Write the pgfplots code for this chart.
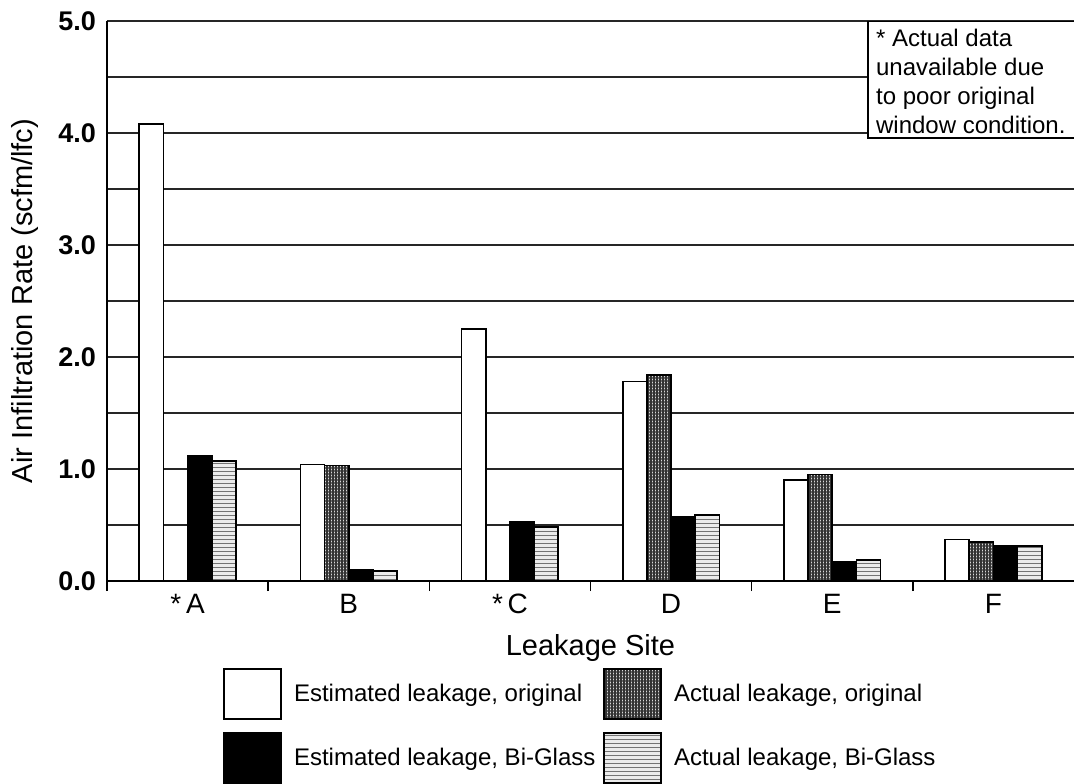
\documentclass[border=0pt]{standalone}
\usepackage{pgfplots}
\pgfplotsset{compat=1.18}
\usepackage{fontspec}
\setmainfont{Liberation Sans}
\usetikzlibrary{patterns.meta}

\begin{document}
\begin{tikzpicture}
\begin{axis}[
  scale only axis,
  width=483.5pt, height=280pt,
  xmin=-0.5, xmax=5.5, ymin=0, ymax=5,
  axis x line*=bottom, axis y line*=left,
  axis line style={line width=0.8pt, black},
  ybar, bar width=0.15,
  /pgf/number format/assume math mode=true,
  xtick={0,1,2,3,4,5},
  xticklabels={*\,A, B, *\,C, D, E, F},
  ytick={0,0.5,1,1.5,2,2.5,3,3.5,4,4.5,5},
  yticklabels={0.0,,1.0,,2.0,,3.0,,4.0,,5.0},
  ymajorgrids, grid style={line width=0.75pt, black!85},
  major tick length=0pt,
  extra x ticks={-0.5,0.5,1.5,2.5,3.5,4.5},
  extra x tick labels={},
  extra x tick style={major tick length=5pt, tick align=outside, grid=none, tick style={line width=0.8pt, black}},
  xticklabel style={font=\fontsize{14}{16}\selectfont, yshift=-3pt},
  yticklabel style={font=\bfseries\fontsize{13.5}{16}\selectfont, xshift=-2pt},
  xlabel={Leakage Site},
  ylabel={Air Infiltration Rate (scfm/lfc)},
  every axis x label/.style={at={(axis description cs:0.5,-0.1196)}, anchor=center, font=\fontsize{14.5}{17}\selectfont},
  every axis y label/.style={at={(axis description cs:-0.0848,0.5)}, anchor=center, rotate=90, font=\fontsize{14.5}{17}\selectfont},
  legend columns=2,
  legend style={at={(0,0)}, anchor=north west, xshift=58pt, yshift=-43.5pt, draw=none, fill=none, inner sep=0pt, font=\fontsize{12}{14}\selectfont, row sep=6pt, /tikz/every odd column/.style={column sep=4pt}, /tikz/every even column/.style={column sep=2pt}},
  legend cell align=left,
  legend image code/.code={\draw[#1, line width=0.8pt] (0pt,-12.5pt) rectangle (28.5pt,12.5pt);},
]
\addplot[draw=black, line width=0.8pt, fill=white, bar shift=-0.225]
  coordinates {(0,4.08) (1,1.04) (2,2.25) (3,1.78) (4,0.90) (5,0.37)};
\addlegendentry{Estimated leakage, original}
\addplot[draw=black, line width=0.8pt, preaction={fill=black!15}, pattern={Hatch[distance=1.5pt, line width=0.55pt]}, pattern color=black!80, bar shift=-0.075]
  coordinates {(1,1.03) (3,1.84) (4,0.95) (5,0.35)};
\addlegendentry{Actual leakage, original}
\addplot[draw=black, line width=0.8pt, fill=black, bar shift=0.075]
  coordinates {(0,1.12) (1,0.10) (2,0.53) (3,0.57) (4,0.17) (5,0.31)};
\addlegendentry{Estimated leakage, Bi-Glass}
\addplot[draw=black, line width=0.8pt, preaction={fill=black!8}, pattern={Lines[angle=0, distance=2pt, line width=0.5pt]}, pattern color=black!55, bar shift=0.225]
  coordinates {(0,1.07) (1,0.09) (2,0.48) (3,0.59) (4,0.19) (5,0.31)};
\addlegendentry{Actual leakage, Bi-Glass}
\draw[line width=0.8pt, fill=white] (axis cs:4.22,3.955) rectangle (rel axis cs:1.02,1);
\node[anchor=north west, align=left, inner sep=0pt, font=\fontsize{12}{14.5}\selectfont] at ([xshift=4pt, yshift=-4pt]axis cs:4.22,5) {* Actual data\\unavailable due\\to poor original\\window condition.};
\coordinate (bl) at (rel axis cs:0,0);
\coordinate (tr) at (rel axis cs:1,1);
\end{axis}
\pgfresetboundingbox
\path ([xshift=-53.5pt,yshift=-101pt]bl) rectangle ([yshift=10.5pt]tr);
\end{tikzpicture}
\end{document}
